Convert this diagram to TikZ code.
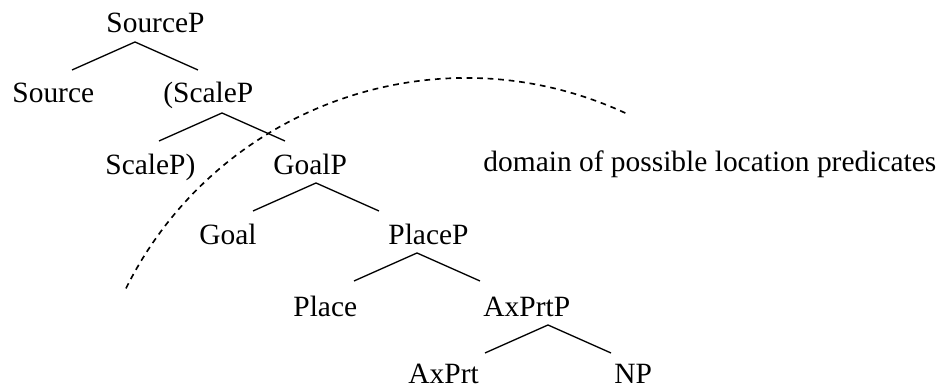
\documentclass[tikz,border=0pt]{standalone}
\usepackage{fontspec}
\setmainfont{Liberation Serif}
\usetikzlibrary{positioning}
\tikzset{
  cat/.style={anchor=base west,inner sep=0pt,font=\fontsize{13.4}{16}\selectfont},
  branch/.style={line width=0.6pt},
  domainline/.style={line width=0.75pt,dash pattern=on 2.6pt off 2.2pt}
}
\begin{document}
\begin{tikzpicture}[x=0.16mm,y=0.16mm]
  \useasboundingbox (0,0) rectangle (938,389);
  % labels of the tree
  \foreach \nm/\xx/\yy/\txt in {srcP/106/356/SourceP,src/12/286/Source,sclA/163/286/(ScaleP,
      sclB/105/214/ScaleP),goalP/273/214/GoalP,goal/199/144/Goal,placeP/388/144/PlaceP,
      place/293/72/Place,axP/483/72/AxPrtP,ax/408/5/AxPrt,np/614/5/NP} {
    \node[cat] (\nm) at (\xx,\yy) {\txt};
  }
  \node[cat] (dom) at (483,217) {domain of possible location predicates};
  % branches
  \foreach \i/\ax/\ay in {1/135/347,2/222/276,3/316/206,4/417/136,5/548/64} {
    \coordinate (top\i) at (\ax,\ay);
    \coordinate (lft\i) at (\ax-63,\ay-28);
    \coordinate (rgt\i) at (\ax+63,\ay-28);
    \draw[branch] (lft\i) -- (top\i) -- (rgt\i);
  }
  % the domain boundary
  \coordinate (arcctr) at (466,-69);
  \draw[domainline] (arcctr) ++(153.5:380) arc[start angle=153.5,end angle=64.7,radius=380];
\end{tikzpicture}
\end{document}
